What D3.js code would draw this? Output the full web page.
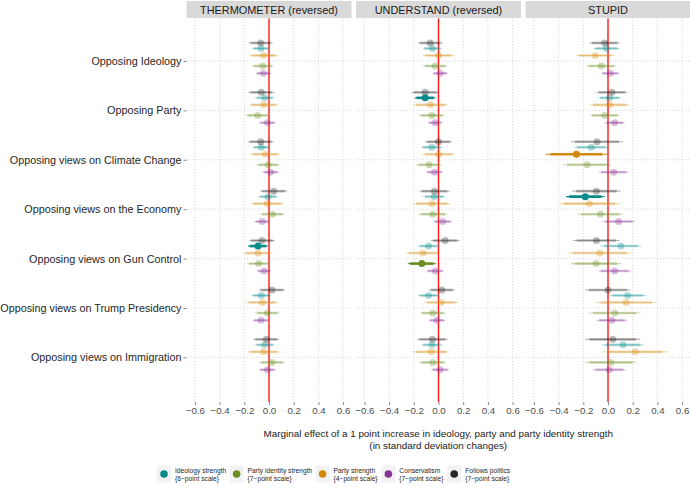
<!DOCTYPE html>
<html><head><meta charset="utf-8">
<script src="https://cdn.jsdelivr.net/npm/d3@7"></script>
<style>body{margin:0;background:#fff} svg{display:block;font-family:"Liberation Sans",Arial,Helvetica,sans-serif}</style>
</head><body><svg id="chart" width="690" height="489"></svg>
<script>
const panels = ["THERMOMETER (reversed)", "UNDERSTAND (reversed)", "STUPID"];
const categories = ["Opposing Ideology", "Opposing Party", "Opposing views on Climate Change",
  "Opposing views on the Economy", "Opposing views on Gun Control",
  "Opposing views on Trump Presidency", "Opposing views on Immigration"];
const seriesNames = ["Ideology strength", "Party identity strength", "Party strength", "Conservatism", "Follows politics"];
const seriesScales = ["{6\u2212point scale}", "{7\u2212point scale}", "{4\u2212point scale}", "{7\u2212point scale}", "{7\u2212point scale}"];
const seriesColors = ["#0a8b8b", "#6b8e23", "#d4880a", "#883595", "#262626"];
const xTicks = [-0.6, -0.4, -0.2, 0, 0.2, 0.4, 0.6];

// rows = series (legend order), columns = categories
const thermometerEst = [
  [-0.065, -0.035, -0.062, -0.008, -0.089, -0.062, -0.035],
  [-0.050, -0.092, -0.008, 0.027, -0.084, -0.013, 0.024],
  [-0.043, -0.043, -0.030, -0.013, -0.089, -0.054, -0.043],
  [-0.045, -0.013, 0.013, -0.055, -0.040, -0.065, -0.013],
  [-0.067, -0.062, -0.067, 0.038, -0.057, 0.024, -0.022]
];
const thermometerSE = [
  [0.036, 0.039, 0.036, 0.040, 0.041, 0.040, 0.040],
  [0.045, 0.050, 0.048, 0.050, 0.047, 0.051, 0.052],
  [0.059, 0.060, 0.062, 0.067, 0.060, 0.067, 0.065],
  [0.032, 0.034, 0.034, 0.032, 0.030, 0.034, 0.034],
  [0.050, 0.054, 0.053, 0.056, 0.053, 0.055, 0.054]
];
const understandEst = [
  [-0.049, -0.108, -0.054, -0.035, -0.081, -0.081, -0.054],
  [-0.027, -0.054, -0.076, -0.046, -0.135, -0.046, -0.046],
  [0.000, -0.065, 0.000, -0.054, -0.127, 0.022, -0.059],
  [0.013, -0.027, -0.032, 0.035, -0.027, -0.013, 0.013],
  [-0.067, -0.108, 0.000, -0.032, 0.054, 0.027, -0.049]
];
const understandSE = [
  [0.039, 0.043, 0.043, 0.045, 0.043, 0.043, 0.043],
  [0.050, 0.053, 0.053, 0.060, 0.058, 0.053, 0.056],
  [0.064, 0.071, 0.067, 0.077, 0.069, 0.070, 0.074],
  [0.032, 0.030, 0.035, 0.039, 0.036, 0.034, 0.037],
  [0.051, 0.057, 0.056, 0.063, 0.059, 0.054, 0.064]
];
const stupidEst = [
  [-0.013, 0.013, -0.135, -0.184, 0.105, 0.159, 0.121],
  [-0.054, -0.027, -0.170, -0.062, -0.097, 0.054, 0.024],
  [-0.103, 0.013, -0.256, -0.151, -0.067, 0.146, 0.221],
  [0.019, 0.054, 0.046, 0.086, 0.054, 0.032, 0.011],
  [-0.027, 0.032, -0.089, -0.094, -0.094, 0.000, 0.038]
];
const stupidSE = [
  [0.054, 0.047, 0.071, 0.079, 0.084, 0.076, 0.085],
  [0.062, 0.062, 0.099, 0.095, 0.105, 0.107, 0.105],
  [0.080, 0.081, 0.128, 0.126, 0.133, 0.127, 0.134],
  [0.038, 0.041, 0.062, 0.067, 0.069, 0.063, 0.069],
  [0.063, 0.065, 0.109, 0.100, 0.097, 0.095, 0.114]
];
// highlighted (significant) estimates: [panel, category, series]
const highlighted = [
  ["THERMOMETER (reversed)", "Opposing views on Gun Control", "Ideology strength"],
  ["UNDERSTAND (reversed)", "Opposing Party", "Ideology strength"],
  ["UNDERSTAND (reversed)", "Opposing views on Gun Control", "Party identity strength"],
  ["STUPID", "Opposing views on Climate Change", "Party strength"],
  ["STUPID", "Opposing views on the Economy", "Ideology strength"]
];
const xTitle = ["Marginal effect of a 1 point increase in ideology, party and party identity strength",
  "(in standard deviation changes)"];

const estByPanel = [thermometerEst, understandEst, stupidEst];
const seByPanel = [thermometerSE, understandSE, stupidSE];

// ---- layout ----
const svg = d3.select("#chart");
const panelTop = 18.5, panelBottom = 402, panelW = 165, gap = 4.5, firstLeft = 186.5;
const dodge = [-0.254, 0.101, -0.112, 0.25, -0.365]; // fraction of category step
const y = d3.scalePoint().domain(categories).range([61, 357.4]);
const step = y.step();
const color = d3.scaleOrdinal().domain(seriesNames).range(seriesColors);
const isHi = (p, c, s) => highlighted.some(h => h[0] === p && h[1] === c && h[2] === s);

panels.forEach((pname, pi) => {
  const left = firstLeft + pi * (panelW + gap);
  const x = d3.scaleLinear().domain([-0.668, 0.668]).range([left, left + panelW]);
  const g = svg.append("g");
  // strip
  g.append("rect").attr("x", left).attr("y", 1).attr("width", panelW).attr("height", panelTop - 1.5)
    .attr("fill", "#d9d9d9");
  g.append("text").attr("x", left + panelW / 2).attr("y", 13.7).attr("text-anchor", "middle")
    .attr("font-size", 10.9).attr("fill", "#1a1a1a").text(pname);
  // grid
  g.selectAll(".vg").data(xTicks).enter().append("line")
    .attr("x1", d => x(d)).attr("x2", d => x(d)).attr("y1", panelTop).attr("y2", panelBottom)
    .attr("stroke", "#c4c4c4").attr("stroke-width", 0.8).attr("stroke-dasharray", "1,2.2");
  g.selectAll(".hg").data(categories).enter().append("line")
    .attr("x1", left).attr("x2", left + panelW).attr("y1", d => y(d)).attr("y2", d => y(d))
    .attr("stroke", "#c4c4c4").attr("stroke-width", 0.8).attr("stroke-dasharray", "1,2.2");
  // x axis
  const xa = g.append("g").attr("transform", `translate(0,${panelBottom})`)
    .call(d3.axisBottom(x).tickValues(xTicks).tickSize(3).tickPadding(2)
      .tickFormat(d => d3.format(".1f")(d).replace("-", "\u2212")));
  xa.select(".domain").remove();
  xa.selectAll("line").attr("stroke", "#555").attr("stroke-width", 0.7);
  xa.selectAll("text").attr("font-size", 9.7).attr("fill", "#4d4d4d")
    .attr("font-family", "Liberation Sans, Arial, sans-serif");
  // red zero line
  g.append("line").attr("x1", x(0)).attr("x2", x(0)).attr("y1", panelTop).attr("y2", panelBottom)
    .attr("stroke", "#ff1a1a").attr("stroke-width", 1.4);

  // estimates
  const items = [];
  seriesNames.forEach((s, si) => {
    categories.forEach((c, ci) => {
      items.push({s, si, c, est: estByPanel[pi][si][ci], se: seByPanel[pi][si][ci], hi: isHi(pname, c, s)});
    });
  });
  items.sort((a, b) => a.hi - b.hi);
  const op = d => d.hi ? 1 : 0.32;
  const yy = d => y(d.c) + dodge[d.si] * step;
  const mk = g.selectAll(".est").data(items).enter().append("g");
  mk.append("line").attr("x1", d => x(d.est - 1.96 * d.se)).attr("x2", d => x(d.est + 1.96 * d.se))
    .attr("y1", yy).attr("y2", yy).attr("stroke", d => color(d.s)).attr("stroke-width", 1.1)
    .attr("stroke-opacity", op);
  mk.append("line").attr("x1", d => x(d.est - 1.645 * d.se)).attr("x2", d => x(d.est + 1.645 * d.se))
    .attr("y1", yy).attr("y2", yy).attr("stroke", d => color(d.s)).attr("stroke-width", 2.6)
    .attr("stroke-opacity", op);
  mk.append("circle").attr("cx", d => x(d.est)).attr("cy", yy).attr("r", 3.5)
    .attr("fill", d => color(d.s)).attr("fill-opacity", op);
});

// y axis (left)
const ya = svg.append("g").attr("transform", `translate(${firstLeft},0)`)
  .call(d3.axisLeft(y).tickSize(3).tickPadding(2));
ya.select(".domain").remove();
ya.selectAll("line").attr("stroke", "#555").attr("stroke-width", 0.7);
ya.selectAll("text").attr("font-size", 10.8).attr("fill", "#262626")
  .attr("font-family", "Liberation Sans, Arial, sans-serif");

// x title
const xc = (firstLeft + 690) / 2;
svg.append("text").attr("x", xc).attr("y", 436.5).attr("text-anchor", "middle")
  .attr("font-size", 9.9).attr("fill", "#1a1a1a").text(xTitle[0]);
svg.append("text").attr("x", xc).attr("y", 448.5).attr("text-anchor", "middle")
  .attr("font-size", 9.9).attr("fill", "#1a1a1a").text(xTitle[1]);

// legend
let cx = 157;
const lg = svg.append("g");
seriesNames.forEach((s, i) => {
  const it = lg.append("g");
  it.append("rect").attr("x", cx).attr("y", 465.5).attr("width", 14).attr("height", 17).attr("fill", "#f2f2f2");
  it.append("circle").attr("cx", cx + 7).attr("cy", 474).attr("r", 3.8).attr("fill", color(s));
  const t = it.append("text").attr("x", cx + 18).attr("font-size", 6.7).attr("fill", "#262626");
  t.append("tspan").attr("x", cx + 18).attr("y", 472.5).text(s);
  t.append("tspan").attr("x", cx + 18).attr("y", 481).text(seriesScales[i]);
  const w = t.node().getBBox().width;
  cx = cx + 18 + w + 3;
});
</script></body></html>
